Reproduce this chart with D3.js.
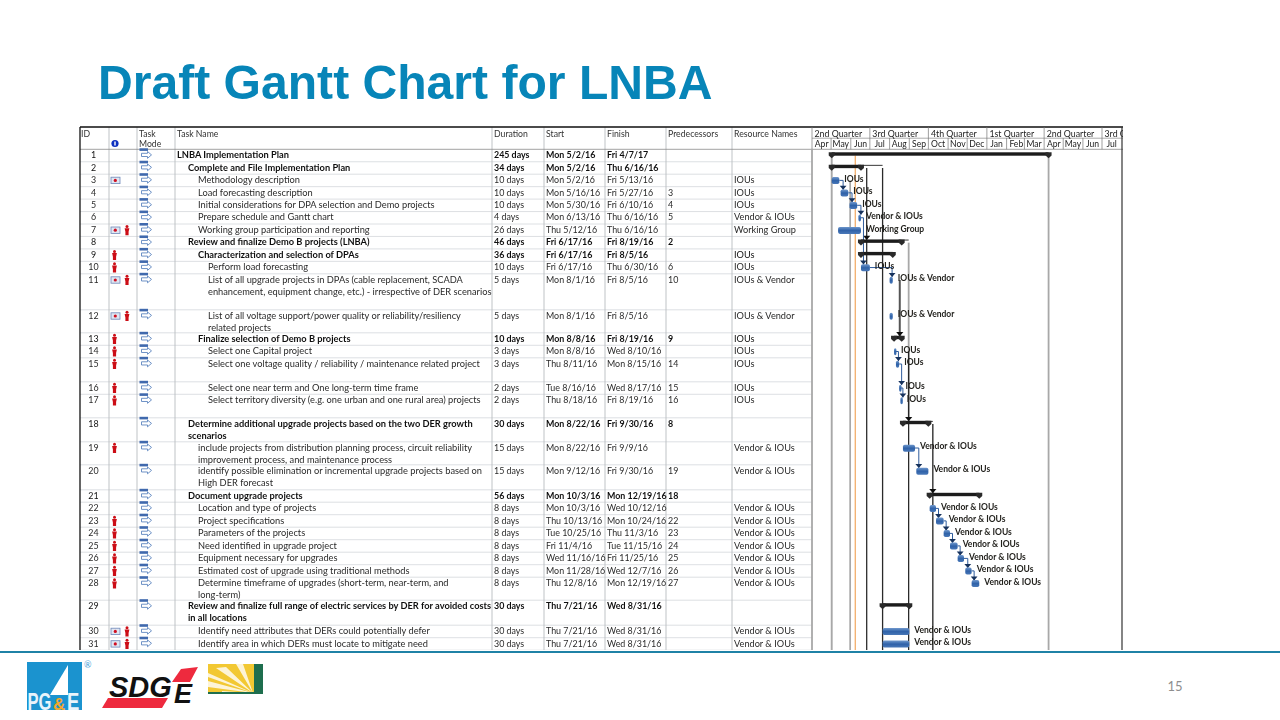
<!DOCTYPE html>
<html><head><meta charset="utf-8">
<script src="https://cdn.jsdelivr.net/npm/d3@7"></script>
<style>
html,body{margin:0;padding:0;background:#fff;overflow:hidden}
svg{display:block}
text{font-family:Lato,"Open Sans",sans-serif}
</style></head><body>
<svg id="c" width="1280" height="720"></svg>
<script>
// ---------- data ----------
const ids=[1,2,3,4,5,6,7,8,9,10,11,12,13,14,15,16,17,18,19,20,21,22,23,24,25,26,27,28,29,30,31];
const levels=[0,1,2,2,2,2,2,1,2,3,3,3,2,3,3,3,3,1,2,2,1,2,2,2,2,2,2,2,1,2,2];
const taskNames=[
"LNBA Implementation Plan","Complete and File Implementation Plan","Methodology description","Load forecasting description",
"Initial considerations for DPA selection and Demo projects","Prepare schedule and Gantt chart","Working group participation and reporting",
"Review and finalize Demo B projects (LNBA)","Characterization and selection of DPAs","Perform load forecasting",
"List of all upgrade projects in DPAs (cable replacement, SCADA|enhancement, equipment change, etc.) - irrespective of DER scenarios",
"List of all voltage support/power quality or reliability/resiliency|related projects","Finalize selection of Demo B projects","Select one Capital project",
"Select one voltage quality / reliability / maintenance related project","Select one near term and One long-term time frame",
"Select territory diversity (e.g. one urban and one rural area) projects","Determine additional upgrade projects based on the two DER growth|scenarios",
"include projects from distribution planning process, circuit reliability|improvement process, and maintenance process",
"identify possible elimination or incremental upgrade projects based on|High DER forecast","Document upgrade projects","Location and type of projects",
"Project specifications","Parameters of the projects","Need identified in upgrade project","Equipment necessary for upgrades",
"Estimated cost of upgrade using traditional methods","Determine timeframe of upgrades (short-term, near-term, and|long-term)",
"Review and finalize full range of electric services by DER for avoided costs|in all locations","Identify need attributes that DERs could potentially defer",
"Identify area in which DERs must locate to mitigate need"];
const durations=["245 days","34 days","10 days","10 days","10 days","4 days","26 days","46 days","36 days","10 days","5 days","5 days","10 days","3 days","3 days","2 days","2 days","30 days","15 days","15 days","56 days","8 days","8 days","8 days","8 days","8 days","8 days","8 days","30 days","30 days","30 days"];
const starts=["Mon 5/2/16","Mon 5/2/16","Mon 5/2/16","Mon 5/16/16","Mon 5/30/16","Mon 6/13/16","Thu 5/12/16","Fri 6/17/16","Fri 6/17/16","Fri 6/17/16","Mon 8/1/16","Mon 8/1/16","Mon 8/8/16","Mon 8/8/16","Thu 8/11/16","Tue 8/16/16","Thu 8/18/16","Mon 8/22/16","Mon 8/22/16","Mon 9/12/16","Mon 10/3/16","Mon 10/3/16","Thu 10/13/16","Tue 10/25/16","Fri 11/4/16","Wed 11/16/16","Mon 11/28/16","Thu 12/8/16","Thu 7/21/16","Thu 7/21/16","Thu 7/21/16"];
const finishes=["Fri 4/7/17","Thu 6/16/16","Fri 5/13/16","Fri 5/27/16","Fri 6/10/16","Thu 6/16/16","Thu 6/16/16","Fri 8/19/16","Fri 8/5/16","Thu 6/30/16","Fri 8/5/16","Fri 8/5/16","Fri 8/19/16","Wed 8/10/16","Mon 8/15/16","Wed 8/17/16","Fri 8/19/16","Fri 9/30/16","Fri 9/9/16","Fri 9/30/16","Mon 12/19/16","Wed 10/12/16","Mon 10/24/16","Thu 11/3/16","Tue 11/15/16","Fri 11/25/16","Wed 12/7/16","Mon 12/19/16","Wed 8/31/16","Wed 8/31/16","Wed 8/31/16"];
const preds=["","","","3","4","5","","2","","6","10","","9","","14","15","16","8","","19","18","","22","23","24","25","26","27","","",""];
const resources=["","","IOUs","IOUs","IOUs","Vendor & IOUs","Working Group","","IOUs","IOUs","IOUs & Vendor","IOUs & Vendor","IOUs","IOUs","IOUs","IOUs","IOUs","","Vendor & IOUs","Vendor & IOUs","","Vendor & IOUs","Vendor & IOUs","Vendor & IOUs","Vendor & IOUs","Vendor & IOUs","Vendor & IOUs","Vendor & IOUs","","Vendor & IOUs","Vendor & IOUs"];
const summaryIds=[1,2,8,9,13,18,21,29];
const noteIds=[3,7,11,12,30,31];
const personIds=[7,9,10,11,12,13,14,15,16,17,19,23,24,25,26,27,28,30,31];
const columnHeads=["ID","Task|Mode","Task Name","Duration","Start","Finish","Predecessors","Resource Names"];
const quarterLabels=["2nd Quarter","3rd Quarter","4th Quarter","1st Quarter","2nd Quarter","3rd Quarter"];
const monthLabels=["Apr","May","Jun","Jul","Aug","Sep","Oct","Nov","Dec","Jan","Feb","Mar","Apr","May","Jun","Jul"];

// ---------- layout ----------
const rowH=[12.45,12.45,12.45,12.45,12.45,12.45,12.45,12.45,12.45,12.45,36,23,12.5,12.5,24,12.5,23.5,24,23,25,12.4,12.5,12.5,12.5,12.5,12.5,12.5,23,25,12.5,12.5];
const tableTop=127, headBottom=149.3, tableBottom=650, tableLeft=80, tableRight=1123;
const colX={id:80,ind:109,mode:137,name:175,dur:492,start:544,fin:605,pred:666,res:732,chart:812};
const tops=[];rowH.reduce((y,h,i)=>(tops[i]=y,y+h),headBottom);
const parseD=d3.timeParse("%m/%d/%y");
const dateOf=s=>parseD(s.split(" ")[1]);
const x=d3.scaleTime().domain([new Date(2016,3,1),new Date(2017,6,1)]).range([812,1102]);
const xs=i=>x(dateOf(starts[i]));
const xf=i=>x(d3.timeDay.offset(dateOf(finishes[i]),1));
const barY=i=>tops[i]+6.2;

const svg=d3.select("#c");
const defs=svg.append("defs");
defs.append("filter").attr("id","soft").attr("x",0).attr("y",0).attr("width",1).attr("height",1)
  .append("feGaussianBlur").attr("stdDeviation",0.38);
defs.append("clipPath").attr("id","clip").append("rect").attr("x",tableLeft-1).attr("y",tableTop-1).attr("width",tableRight-tableLeft+1).attr("height",tableBottom-tableTop+1);
const grad=defs.append("linearGradient").attr("id","bar").attr("x1",0).attr("y1",0).attr("x2",0).attr("y2",1);
grad.append("stop").attr("offset",0).attr("stop-color","#6f97cc");
grad.append("stop").attr("offset",.5).attr("stop-color","#2f62a8");
grad.append("stop").attr("offset",1).attr("stop-color","#4a78b8");

// title
svg.append("text").attr("x",98).attr("y",98.5).text("Draft Gantt Chart for LNBA")
  .style("font-family","'Liberation Sans',Arial,sans-serif").style("font-weight",700).style("font-size","48.1px").attr("fill","#0785b8");

const root=svg.append("g").attr("clip-path","url(#clip)").append("g").attr("filter","url(#soft)");
root.append("rect").attr("x",tableLeft-1).attr("y",tableTop-1).attr("width",tableRight-tableLeft+1).attr("height",tableBottom-tableTop+1).attr("fill","#fff");

// row rules
root.append("g").selectAll("line").data(ids).join("line")
  .attr("x1",tableLeft).attr("x2",colX.chart).attr("y1",(d,i)=>tops[i]+rowH[i]).attr("y2",(d,i)=>tops[i]+rowH[i])
  .attr("stroke","#d4d8dc").attr("stroke-width",.8);
// column rules
root.append("g").selectAll("line").data([colX.ind,colX.mode,colX.name,colX.dur,colX.start,colX.fin,colX.pred,colX.res]).join("line")
  .attr("x1",d=>d).attr("x2",d=>d).attr("y1",tableTop).attr("y2",tableBottom).attr("stroke","#b8bcc0").attr("stroke-width",.9);
root.append("line").attr("x1",tableLeft).attr("x2",tableRight).attr("y1",headBottom).attr("y2",headBottom).attr("stroke","#8a8a8a").attr("stroke-width",.8);
// outer frame: top and left
root.append("line").attr("x1",tableLeft).attr("x2",tableRight).attr("y1",tableTop).attr("y2",tableTop).attr("stroke","#111").attr("stroke-width",1.3);
root.append("line").attr("x1",tableLeft).attr("x2",tableLeft).attr("y1",tableTop).attr("y2",tableBottom).attr("stroke","#111").attr("stroke-width",1.3);

// header
const headX=[81,139,177,494,546,607,668,734];
columnHeads.forEach((h,i)=>h.split("|").forEach((t,j)=>root.append("text").attr("x",headX[i]).attr("y",137+j*9.8).text(t).style("font-size","8.7px").attr("fill","#333")));
root.append("circle").attr("cx",115).attr("cy",143.5).attr("r",3.6).attr("fill","#1030c0");
root.append("rect").attr("x",114.3).attr("y",141.5).attr("width",1.4).attr("height",4).attr("fill","#fff");

// timescale header
const qStarts=d3.timeMonth.range(x.domain()[0],new Date(2017,9,1),3);
const mStarts=d3.timeMonth.range(x.domain()[0],new Date(2017,7,1));
root.append("line").attr("x1",colX.chart).attr("x2",tableRight).attr("y1",138.2).attr("y2",138.2).attr("stroke","#888").attr("stroke-width",.7);
root.append("g").selectAll("text").data(quarterLabels).join("text").attr("x",(d,i)=>x(qStarts[i])+2.5).attr("y",137).text(d=>d).style("font-size","8.8px").attr("fill","#222");
root.append("g").selectAll("line").data(qStarts).join("line").attr("x1",d=>x(d)).attr("x2",d=>x(d)).attr("y1",tableTop).attr("y2",138).attr("stroke","#777").attr("stroke-width",.7);
root.append("g").selectAll("text").data(monthLabels).join("text").attr("x",(d,i)=>x(mStarts[i])+9.7).attr("y",147).attr("text-anchor","middle").text(d=>d).style("font-size","8.6px").attr("fill","#222");
root.append("g").selectAll("line").data(mStarts).join("line").attr("x1",d=>x(d)).attr("x2",d=>x(d)).attr("y1",138).attr("y2",headBottom).attr("stroke","#777").attr("stroke-width",.7);

// body text
const indent=[177,188,198,208];
ids.forEach((id,i)=>{
  const bold=summaryIds.includes(id);
  const fill=bold?"#111":"#2a2a2a";
  const w=bold?700:400;
  const y=tops[i]+8.9;
  const put=(xp,t,anchor)=>root.append("text").attr("x",xp).attr("y",y).text(t).attr("text-anchor",anchor||"start").style("font-size","8.9px").style("font-weight",w).attr("fill",fill);
  put(93.5,id,"middle").style("font-weight",400);
  taskNames[i].split("|").forEach((t,j)=>root.append("text").attr("x",indent[levels[i]]).attr("y",y+j*12.3).text(t).style("font-size","9.28px").style("font-weight",w).attr("fill",fill));
  put(494,durations[i]);put(546,starts[i]);put(607,finishes[i]);put(668,preds[i]);
  put(734,resources[i]).style("font-weight",400).style("font-size","9.2px");
  // indicators
  const hasNote=noteIds.includes(id),hasP=personIds.includes(id);
  if(hasNote){
    const g=root.append("g").attr("transform",`translate(111,${tops[i]+3})`);
    g.append("rect").attr("width",9).attr("height",6.4).attr("fill","#dfe6f2").attr("stroke","#6f88b8").attr("stroke-width",.8);
    g.append("circle").attr("cx",4.3).attr("cy",3.2).attr("r",1.6).attr("fill","#d01020");
  }
  if(hasP){
    const g=root.append("g").attr("transform",`translate(${hasNote?127:114.5},${tops[i]+1.2})`);
    g.append("circle").attr("cy",1.3).attr("r",1.5).attr("fill","#cc1018");
    g.append("path").attr("d","M-2.4 3H2.4L1.6 6.6V10H-1.6V6.6Z").attr("fill","#cc1018");
  }
  // task mode icon
  const m=root.append("g").attr("transform",`translate(139.5,${tops[i]-1})`);
  m.append("rect").attr("width",8.5).attr("height",2.6).attr("fill","#3f69ad");
  m.append("path").attr("d","M2 5H8V3.2L12 6.6L8 10V8.2H2Z").attr("fill","#fff").attr("stroke","#5e86c0").attr("stroke-width",.9);
});

// chart frame
root.append("line").attr("x1",colX.chart).attr("x2",colX.chart).attr("y1",headBottom).attr("y2",tableBottom).attr("stroke","#a8a8a8").attr("stroke-width",1.8);

// long drop lines: [date, first row id, last row id, colour, width]
const guides=[
 ["5/2/16",1,32,"#a8a8a8",1.9],["5/31/16",3,32,"#a8a8a8",1.7],["6/8/16",1,32,"#f0a050",1.1],
 ["6/26/16",2,32,"#2c2c2c",1.3],["7/21/16",2,32,"#2c2c2c",1.3],["8/17/16",11,13,"#555",2],
 ["8/31/16",8,18,"#a8a8a8",1.8],["8/31/16",14,32,"#1c1c1c",1.2],["10/8/16",18,32,"#222",1.3],["4/8/17",1,32,"#a8a8a8",1.8]];
guides.forEach(([d,a,b,c,w])=>{
  const X=x(parseD(d));
  root.append("line").attr("x1",X).attr("x2",X).attr("y1",barY(a-1)).attr("y2",b>31?tableBottom:tops[b-1]+4).attr("stroke",c).attr("stroke-width",w);
});
// right border
root.append("line").attr("x1",1122).attr("x2",1122).attr("y1",tableTop).attr("y2",tableBottom).attr("stroke","#333").attr("stroke-width",1.2);
// summary-to-guide stubs
[[2,"7/21/16"],[8,"8/31/16"],[18,"10/8/16"]].forEach(([id,d])=>{
  root.append("line").attr("x1",xf(id-1)).attr("x2",x(parseD(d))).attr("y1",tops[id-1]+3.6).attr("y2",tops[id-1]+3.6).attr("stroke","#222").attr("stroke-width",.9);
});
// arrows on summary rows, from their predecessor guide
[[8,"6/26/16"],[13,"8/17/16"],[18,"8/31/16"],[21,"10/8/16"]].forEach(([id,d])=>{
  const X=x(parseD(d)),Y=tops[id-1]+3.5;
  root.append("path").attr("d",`M${X-3.6} ${Y-4.2}H${X+3.6}L${X} ${Y}Z`).attr("fill","#111");
});

// connectors
ids.forEach((id,i)=>{
  const p=+preds[i]; if(!p||summaryIds.includes(id)) return;
  const j=p-1,X1=xf(j),X2=xs(i)+2.5,Y1=barY(j),Y2=barY(i)-3;
  root.append("path").attr("d",d3.line()([[X1,Y1],[X2,Y1],[X2,Y2]])).attr("fill","none").attr("stroke","#2f5c9c").attr("stroke-width",1);
  root.append("path").attr("d",`M${X2-3.4} ${Y2-4}H${X2+3.4}L${X2} ${Y2}Z`).attr("fill","#16305c");
});

// task bars
const taskRows=ids.map((d,i)=>i).filter(i=>!summaryIds.includes(ids[i]));
root.append("g").selectAll("rect").data(taskRows).join("rect")
  .attr("x",xs).attr("y",i=>barY(i)-3.3).attr("width",i=>Math.max(xf(i)-xs(i),2.4)).attr("height",7).attr("rx",1.8).attr("fill","url(#bar)");

// summary bars
summaryIds.forEach(id=>{
  const i=id-1,a=xs(i),b=xf(i),y=tops[i]+4.6;
  root.append("rect").attr("x",a).attr("y",y-1.6).attr("width",b-a).attr("height",3.4).attr("fill","#1c1c1c");
  [a,b].forEach(X=>root.append("path").attr("d",`M${X-3} ${y-1.6}H${X+3}V${y+1.6}L${X} ${y+4.4}L${X-3} ${y+1.6}Z`).attr("fill","#2b2b2b"));
});

// resource labels
taskRows.forEach(i=>{
  root.append("text").attr("x",xf(i)+5).attr("y",barY(i)+1.4).text(resources[i]).style("font-size","8.5px").style("font-weight",700).attr("fill","#24231f");
});

// footer rule + page number
svg.append("rect").attr("x",0).attr("y",651).attr("width",1280).attr("height",2).attr("fill","#1f82a6");
svg.append("text").attr("x",1175).attr("y",691).attr("text-anchor","middle").text("15").style("font-size","13px").attr("fill","#8e8e8e");

// logos
const L=svg.append("g");
L.append("rect").attr("x",27).attr("y",662).attr("width",55).attr("height",48).attr("fill","#1b93cf");
L.append("path").attr("d","M68 665L50 695H68Z").attr("fill","#fff");
L.append("g").attr("transform","translate(27.5,709.5) scale(0.72,1)").append("text").text("PG").style("font-family","'Liberation Sans'").style("font-size","23px").style("font-weight",700).attr("fill","#e8f4fb");
L.append("text").attr("x",53).attr("y",709.5).text("&").style("font-family","'Liberation Sans'").style("font-size","17px").style("font-weight",700).attr("fill","#f4a72c");
L.append("g").attr("transform","translate(67,709.5) scale(0.8,1)").append("text").text("E").style("font-family","'Liberation Sans'").style("font-size","23px").style("font-weight",700).attr("fill","#e8f4fb");
L.append("text").attr("x",84).attr("y",668).text("®").style("font-size","9px").attr("fill","#4aa3d8");
L.append("path").attr("d","M108 698H168L162 708H102Z").attr("fill","#ee2a3e");
L.append("path").attr("d","M181 669L198 667L190 682H172Z").attr("fill","#ee2a3e");
L.append("text").attr("x",109).attr("y",697).text("SDG").style("font-family","'Liberation Sans'").style("font-size","29px").style("font-weight",700).style("font-style","italic").attr("fill","#111");
L.append("text").attr("x",174).attr("y",703).text("E").style("font-family","'Liberation Sans'").style("font-size","27px").style("font-weight",700).style("font-style","italic").attr("fill","#111");
L.append("rect").attr("x",208).attr("y",664).attr("width",47).attr("height",29).attr("fill","#f2c832");
L.append("path").attr("d","M253 693L216 668L226 667ZM253 693L208 681V687ZM253 693L208 673V677ZM253 693L236 664H243ZM253 693H222V691Z").attr("fill","#fff").attr("opacity",.8);
L.append("path").attr("d","M254 664H263V694H208V692H254Z").attr("fill","#1e6e4e");
</script>
</body></html>
